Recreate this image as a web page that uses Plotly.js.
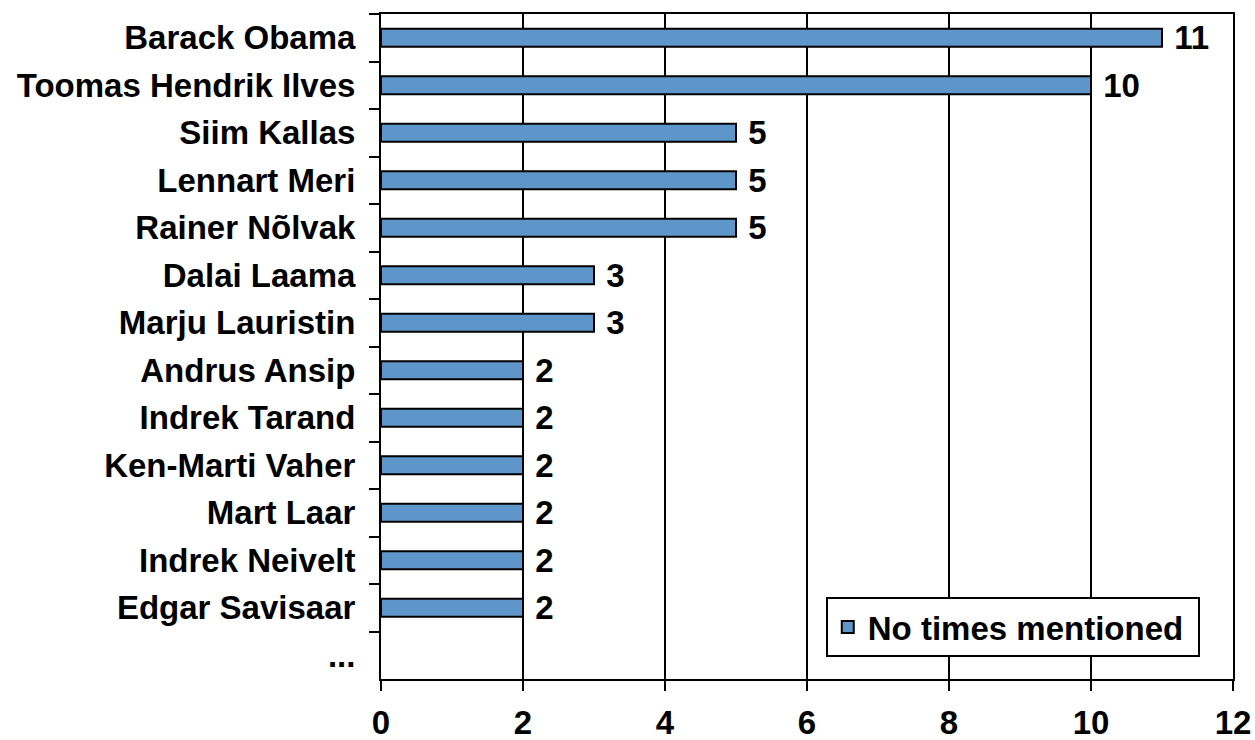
<!DOCTYPE html>
<html>
<head>
<meta charset="utf-8">
<script src="https://cdn.plot.ly/plotly-3.0.1.min.js"></script>
<style>html,body{margin:0;padding:0;background:#fff;}#chart{width:1255px;height:740px;}</style>
</head>
<body>
<div id="chart"></div>
<script>
const names = ["Barack Obama","Toomas Hendrik Ilves","Siim Kallas","Lennart Meri","Rainer Nõlvak","Dalai Laama","Marju Lauristin","Andrus Ansip","Indrek Tarand","Ken-Marti Vaher","Mart Laar","Indrek Neivelt","Edgar Savisaar","..."];
const mentions = [11,10,5,5,5,3,3,2,2,2,2,2,2,null];
const seriesName = "No times mentioned";
const xTicks = [0,2,4,6,8,10,12];

const FS = 33;
const fam = "Liberation Sans, Arial, sans-serif";
const boldFont = {family: fam, size: FS, color: "#000", weight: "bold"};

const trace = {
  type: "bar",
  orientation: "h",
  y: names,
  x: mentions,
  name: seriesName + "\u00a0",
  text: mentions.map(v => v === null ? "" : "\u00a0" + String(v)),
  textposition: "outside",
  constraintext: "none",
  textfont: boldFont,
  cliponaxis: false,
  marker: {color: "#5F96C9", line: {color: "#000", width: 2}},
  showlegend: true
};

const layout = {
  width: 1255, height: 740,
  margin: {l: 381, r: 22, t: 14, b: 61},
  paper_bgcolor: "#fff", plot_bgcolor: "#fff",
  font: {family: fam, size: FS, color: "#000"},
  bargap: 0.62,
  showlegend: true,
  legend: {
    x: 0.961, xanchor: "right", xref: "paper",
    y: 0.078, yanchor: "middle",
    bordercolor: "#000", borderwidth: 2, bgcolor: "#fff",
    font: boldFont,
    itemwidth: 30
  },
  xaxis: {
    range: [0, 12], tickvals: xTicks, ticktext: xTicks.map(String),
    showgrid: true, gridcolor: "#000", gridwidth: 1.5,
    showline: true, linecolor: "#000", linewidth: 2, mirror: true,
    ticks: "outside", ticklen: 10, tickwidth: 2, tickcolor: "#000",
    tickfont: boldFont,
    ticklabelstandoff: 3,
    zeroline: false, fixedrange: true
  },
  yaxis: {
    type: "category",
    categoryorder: "array", categoryarray: names,
    range: [13.5, -0.5],
    tickson: "boundaries",
    ticks: "outside", ticklen: 10, tickwidth: 2, tickcolor: "#000",
    showgrid: false,
    showline: true, linecolor: "#000", linewidth: 2, mirror: true,
    tickfont: boldFont,
    ticklabelstandoff: 17,
    zeroline: false, fixedrange: true
  }
};

Plotly.newPlot("chart", [trace], layout, {staticPlot: true, displayModeBar: false});
</script>
</body>
</html>
